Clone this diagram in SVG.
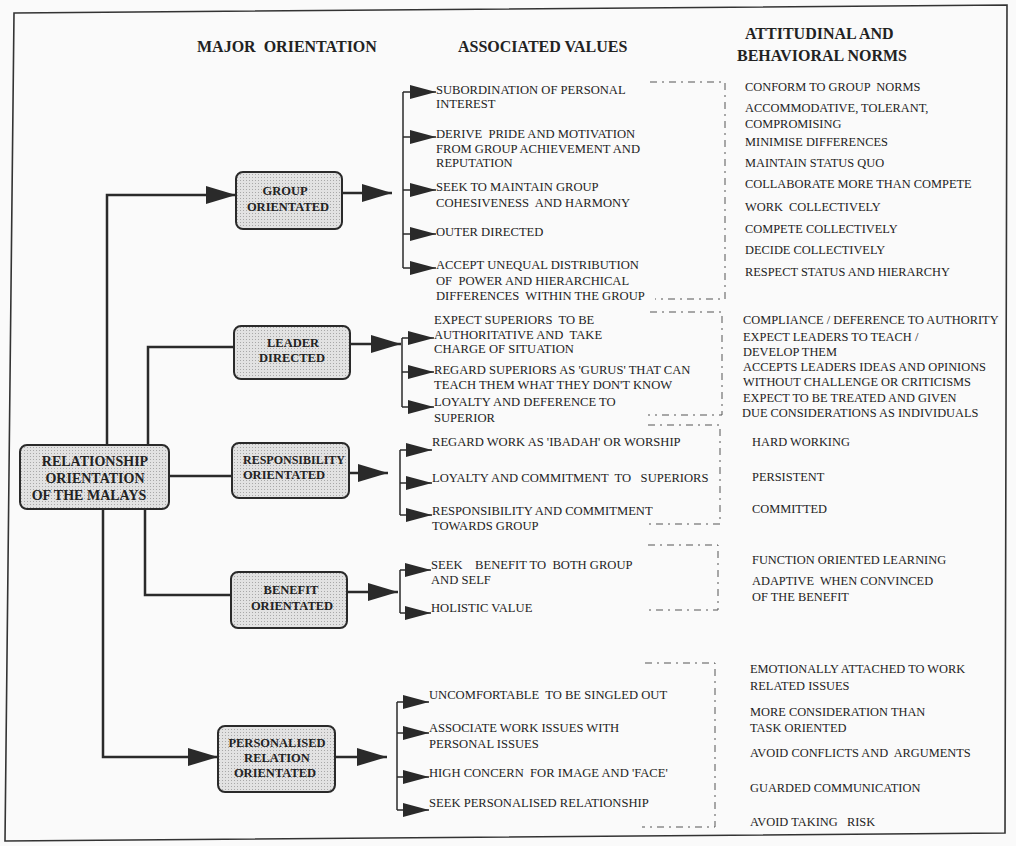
<svg xmlns="http://www.w3.org/2000/svg" width="1016" height="846" viewBox="0 0 1016 846">
<style>
text{white-space:pre}
.frame{fill:none;stroke:#333;stroke-width:1.6}
.node{fill:url(#dots);stroke:#2a2a2a;stroke-width:2}
.nt{font-family:"Liberation Serif",serif;font-weight:bold;font-size:12.5px;fill:#222;text-anchor:middle}
.rt{font-size:14px}
.hd{font-family:"Liberation Serif",serif;font-weight:bold;font-size:16px;fill:#222}
.tx{font-family:"Liberation Serif",serif;font-size:12.6px;fill:#222}
.nx{font-family:"Liberation Serif",serif;font-size:12.4px;fill:#222}
.con{fill:none;stroke:#2a2a2a;stroke-width:2.5}
.br{fill:none;stroke:#2a2a2a;stroke-width:1.5}
.dash{fill:none;stroke:#555;stroke-width:1;stroke-dasharray:7 5 2 5}
</style>
<defs>
<pattern id="dots" width="3" height="3" patternUnits="userSpaceOnUse">
<rect width="3" height="3" fill="#e2e2e2"/>
<rect width="1" height="1" fill="#a8a8a8"/>
</pattern>
<marker id="big" viewBox="0 0 30 18" refX="30" refY="9" markerWidth="30" markerHeight="18" markerUnits="userSpaceOnUse" orient="auto">
<path d="M0,0 L30,9 L0,18 Z" fill="#2a2a2a"/>
</marker>
<marker id="sm" viewBox="0 0 26 14" refX="26" refY="7" markerWidth="26" markerHeight="14" markerUnits="userSpaceOnUse" orient="auto">
<path d="M0,0 L26,7 L0,14 Z" fill="#2a2a2a"/>
</marker>
</defs>
<rect width="1016" height="846" fill="#fafafa"/>
<polygon class="frame" points="14,13 1007,5 1005,833 5,841"/>

<g id="headers">
<text class="hd" x="197" y="52">MAJOR  ORIENTATION</text>
<text class="hd" x="458" y="52">ASSOCIATED VALUES</text>
<text class="hd" x="745" y="39">ATTITUDINAL AND</text>
<text class="hd" x="737" y="61">BEHAVIORAL NORMS</text>
</g>

<g id="connectors">
<path class="con" d="M107,445 V195 H236" marker-end="url(#big)"/>
<path class="con" d="M148,445 V347 H234"/>
<path class="con" d="M169,476 H232"/>
<path class="con" d="M145,509 V595 H231"/>
<path class="con" d="M103,509 V757 H218" marker-end="url(#big)"/>
<path class="con" d="M342,193 H392" marker-end="url(#big)"/>
<path class="con" d="M350,344 H401" marker-end="url(#big)"/>
<path class="con" d="M349,473 H388" marker-end="url(#big)"/>
<path class="con" d="M347,592 H398" marker-end="url(#big)"/>
<path class="con" d="M335,757 H387" marker-end="url(#big)"/>
<path class="br" d="M403,92 V268"/>
<path class="br" d="M403,92 H436" marker-end="url(#sm)"/>
<path class="br" d="M403,137 H436" marker-end="url(#sm)"/>
<path class="br" d="M403,190 H436" marker-end="url(#sm)"/>
<path class="br" d="M403,234 H436" marker-end="url(#sm)"/>
<path class="br" d="M403,268 H436" marker-end="url(#sm)"/>
<path class="br" d="M402,338 V407"/>
<path class="br" d="M402,338 H434" marker-end="url(#sm)"/>
<path class="br" d="M402,372 H434" marker-end="url(#sm)"/>
<path class="br" d="M402,407 H434" marker-end="url(#sm)"/>
<path class="br" d="M400,450 V515"/>
<path class="br" d="M400,450 H432" marker-end="url(#sm)"/>
<path class="br" d="M400,483 H432" marker-end="url(#sm)"/>
<path class="br" d="M400,515 H432" marker-end="url(#sm)"/>
<path class="br" d="M400,570 V613"/>
<path class="br" d="M400,570 H431" marker-end="url(#sm)"/>
<path class="br" d="M400,613 H431" marker-end="url(#sm)"/>
<path class="br" d="M397,702 V810"/>
<path class="br" d="M397,702 H429" marker-end="url(#sm)"/>
<path class="br" d="M397,733 H429" marker-end="url(#sm)"/>
<path class="br" d="M397,777 H429" marker-end="url(#sm)"/>
<path class="br" d="M397,810 H429" marker-end="url(#sm)"/>
<path class="dash" d="M650,82 H725 V299 H655"/>
<path class="dash" d="M650,312 H722 V415 H648"/>
<path class="dash" d="M648,425 H720 V524 H645"/>
<path class="dash" d="M648,545 H718 V610 H645"/>
<path class="dash" d="M645,663 H715 V827 H642"/>
</g>

<g id="root">
<rect class="node" x="20" y="445" width="149" height="64" rx="7"/>
<text class="nt rt" x="95" y="466">RELATIONSHIP</text>
<text class="nt rt" x="95" y="483">ORIENTATION</text>
<text class="nt rt" x="89" y="500">OF THE MALAYS</text>
</g>
<g id="group">
<rect class="node" x="236" y="172" width="106" height="57" rx="7"/>
<text class="nt" x="285" y="195">GROUP</text>
<text class="nt" x="288" y="211">ORIENTATED</text>
</g>
<g id="leader">
<rect class="node" x="234" y="326" width="116" height="53" rx="7"/>
<text class="nt" x="293" y="347">LEADER</text>
<text class="nt" x="292" y="362">DIRECTED</text>
</g>
<g id="responsibility">
<rect class="node" x="232" y="443" width="117" height="55" rx="7"/>
<text class="nt" x="294" y="464" textLength="102" lengthAdjust="spacingAndGlyphs">RESPONSIBILITY</text>
<text class="nt" x="284" y="479">ORIENTATED</text>
</g>
<g id="benefit">
<rect class="node" x="231" y="572" width="116" height="56" rx="7"/>
<text class="nt" x="291" y="594">BENEFIT</text>
<text class="nt" x="292" y="610">ORIENTATED</text>
</g>
<g id="personalised">
<rect class="node" x="218" y="726" width="117" height="66" rx="7"/>
<text class="nt" x="277" y="747">PERSONALISED</text>
<text class="nt" x="277" y="762">RELATION</text>
<text class="nt" x="275" y="777">ORIENTATED</text>
</g>

<g id="values">
<text class="tx" x="436" y="94">SUBORDINATION OF PERSONAL</text>
<text class="tx" x="436" y="108">INTEREST</text>
<text class="tx" x="436" y="138">DERIVE  PRIDE AND MOTIVATION</text>
<text class="tx" x="436" y="153">FROM GROUP ACHIEVEMENT AND</text>
<text class="tx" x="436" y="167">REPUTATION</text>
<text class="tx" x="436" y="191">SEEK TO MAINTAIN GROUP</text>
<text class="tx" x="436" y="207">COHESIVENESS  AND HARMONY</text>
<text class="tx" x="436" y="236">OUTER DIRECTED</text>
<text class="tx" x="436" y="269">ACCEPT UNEQUAL DISTRIBUTION</text>
<text class="tx" x="436" y="285">OF  POWER AND HIERARCHICAL</text>
<text class="tx" x="436" y="300">DIFFERENCES  WITHIN THE GROUP</text>
<text class="tx" x="434" y="324">EXPECT SUPERIORS  TO BE</text>
<text class="tx" x="434" y="339">AUTHORITATIVE AND  TAKE</text>
<text class="tx" x="434" y="353">CHARGE OF SITUATION</text>
<text class="tx" x="434" y="374">REGARD SUPERIORS AS 'GURUS' THAT CAN</text>
<text class="tx" x="434" y="389">TEACH THEM WHAT THEY DON'T KNOW</text>
<text class="tx" x="434" y="406">LOYALTY AND DEFERENCE TO</text>
<text class="tx" x="434" y="422">SUPERIOR</text>
<text class="tx" x="432" y="446">REGARD WORK AS 'IBADAH' OR WORSHIP</text>
<text class="tx" x="432" y="482">LOYALTY AND COMMITMENT  TO   SUPERIORS</text>
<text class="tx" x="432" y="515">RESPONSIBILITY AND COMMITMENT</text>
<text class="tx" x="432" y="530">TOWARDS GROUP</text>
<text class="tx" x="431" y="569">SEEK    BENEFIT TO  BOTH GROUP</text>
<text class="tx" x="431" y="584">AND SELF</text>
<text class="tx" x="431" y="612">HOLISTIC VALUE</text>
<text class="tx" x="429" y="699">UNCOMFORTABLE  TO BE SINGLED OUT</text>
<text class="tx" x="429" y="732">ASSOCIATE WORK ISSUES WITH</text>
<text class="tx" x="429" y="748">PERSONAL ISSUES</text>
<text class="tx" x="429" y="777">HIGH CONCERN  FOR IMAGE AND 'FACE'</text>
<text class="tx" x="429" y="807">SEEK PERSONALISED RELATIONSHIP</text>
</g>

<g id="norms">
<text class="nx" x="745" y="91">CONFORM TO GROUP  NORMS</text>
<text class="nx" x="745" y="112">ACCOMMODATIVE, TOLERANT,</text>
<text class="nx" x="745" y="128">COMPROMISING</text>
<text class="nx" x="745" y="146">MINIMISE DIFFERENCES</text>
<text class="nx" x="745" y="167">MAINTAIN STATUS QUO</text>
<text class="nx" x="745" y="188">COLLABORATE MORE THAN COMPETE</text>
<text class="nx" x="745" y="211">WORK  COLLECTIVELY</text>
<text class="nx" x="745" y="233">COMPETE COLLECTIVELY</text>
<text class="nx" x="745" y="254">DECIDE COLLECTIVELY</text>
<text class="nx" x="745" y="276">RESPECT STATUS AND HIERARCHY</text>
<text class="nx" x="743" y="324">COMPLIANCE / DEFERENCE TO AUTHORITY</text>
<text class="nx" x="743" y="341">EXPECT LEADERS TO TEACH /</text>
<text class="nx" x="743" y="356">DEVELOP THEM</text>
<text class="nx" x="743" y="371">ACCEPTS LEADERS IDEAS AND OPINIONS</text>
<text class="nx" x="743" y="386">WITHOUT CHALLENGE OR CRITICISMS</text>
<text class="nx" x="743" y="402">EXPECT TO BE TREATED AND GIVEN</text>
<text class="nx" x="742" y="417">DUE CONSIDERATIONS AS INDIVIDUALS</text>
<text class="nx" x="752" y="446">HARD WORKING</text>
<text class="nx" x="752" y="481">PERSISTENT</text>
<text class="nx" x="752" y="513">COMMITTED</text>
<text class="nx" x="752" y="564">FUNCTION ORIENTED LEARNING</text>
<text class="nx" x="752" y="585">ADAPTIVE  WHEN CONVINCED</text>
<text class="nx" x="752" y="601">OF THE BENEFIT</text>
<text class="nx" x="750" y="673">EMOTIONALLY ATTACHED TO WORK</text>
<text class="nx" x="750" y="690">RELATED ISSUES</text>
<text class="nx" x="750" y="716">MORE CONSIDERATION THAN</text>
<text class="nx" x="750" y="732">TASK ORIENTED</text>
<text class="nx" x="750" y="757">AVOID CONFLICTS AND  ARGUMENTS</text>
<text class="nx" x="750" y="792">GUARDED COMMUNICATION</text>
<text class="nx" x="750" y="826">AVOID TAKING   RISK</text>
</g>
</svg>
